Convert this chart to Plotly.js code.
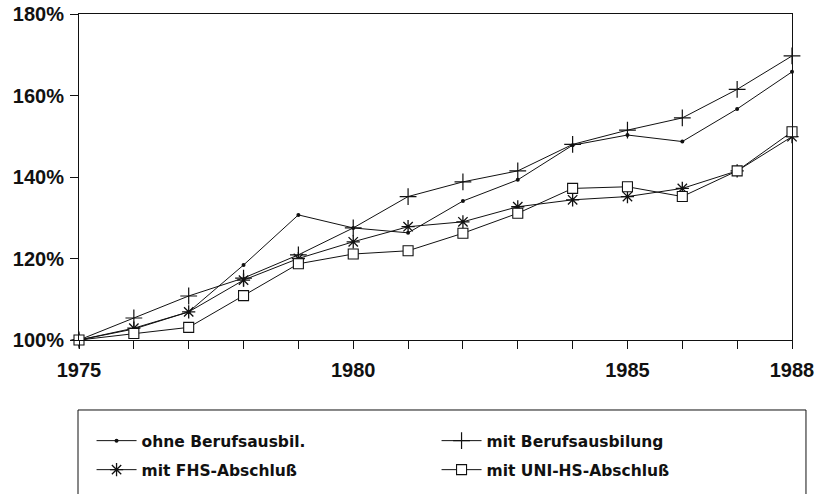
<!DOCTYPE html>
<html>
<head>
<meta charset="utf-8">
<script src="https://cdn.plot.ly/plotly-3.0.1.min.js"></script>
<style>html,body{margin:0;padding:0;background:#fff;}</style>
</head>
<body>
<div id="chart" style="width:822px;height:494px;"></div>
<script>
const years = [1975,1976,1977,1978,1979,1980,1981,1982,1983,1984,1985,1986,1987,1988];
const ohneBerufsausbil = [100,102.7,106.9,118.4,130.7,127.5,126.3,134.1,139.3,147.8,150.3,148.7,156.7,165.8];
const mitBerufsausbildung = [100,105.4,110.8,115.2,120.9,127.5,135.2,138.8,141.5,148.0,151.5,154.5,161.5,169.7];
const mitFHS = [100,102.9,106.9,114.7,120.0,124.1,127.8,129.0,132.7,134.4,135.2,137.2,141.5,149.9];
const mitUNI = [100,101.6,103.1,110.9,118.7,121.1,121.9,126.2,131.1,137.2,137.6,135.2,141.5,151.1];
const seriesNames = ['ohne Berufsausbil.','mit Berufsausbilung','mit FHS-Abschluß','mit UNI-HS-Abschluß'];
const xTickLabels = ['1975','','','','','1980','','','','','1985','','','1988'];
const yTickVals = [100,120,140,160,180];
const yTickLabels = ['100%','120%','140%','160%','180%'];

const legFont = {family:'DejaVu Sans', size:15.5, color:'#111', weight:'bold'};
const base = {x: years, mode:'lines+markers', line:{color:'#111', width:1}, cliponaxis:false};
const traces = [
  Object.assign({}, base, {y: ohneBerufsausbil, name: seriesNames[0], legend:'legend',
    marker:{symbol:'circle', size:4, color:'#111'}}),
  Object.assign({}, base, {y: mitBerufsausbildung, name: seriesNames[1], legend:'legend',
    marker:{symbol:'cross-thin', size:12, color:'#111', line:{color:'#111', width:1.2}}}),
  Object.assign({}, base, {y: mitFHS, name: seriesNames[2], legend:'legend2',
    marker:{symbol:'asterisk', size:11, color:'#111', line:{color:'#111', width:1.3}}}),
  Object.assign({}, base, {y: mitUNI, name: seriesNames[3], legend:'legend2',
    marker:{symbol:'square', size:10, color:'#fff', line:{color:'#111', width:1.1}}})
];

const tickFont = {family:'Liberation Sans', size:20, color:'#111', weight:'bold'};
const legCommon = {orientation:'h', x:0.0176, xanchor:'left', yanchor:'middle',
  entrywidth:290, entrywidthmode:'pixels', font: legFont, bgcolor:'rgba(0,0,0,0)', itemwidth:40};
const layout = {
  width: 822, height: 494,
  margin: {l:79, r:30, t:14, b:154, autoexpand:false},
  paper_bgcolor:'#fff', plot_bgcolor:'#fff',
  showlegend: true,
  xaxis: {
    range:[1975,1988], tickvals: years, ticktext: xTickLabels,
    ticks:'outside', ticklen:8, tickwidth:1, tickcolor:'#111',
    showline:true, linecolor:'#111', linewidth:1, mirror:true,
    showgrid:false, zeroline:false, tickfont: tickFont, ticklabelstandoff: 4, automargin:false
  },
  yaxis: {
    range:[100,180], tickvals: yTickVals, ticktext: yTickLabels,
    ticks:'outside', ticklen:8, tickwidth:1, tickcolor:'#111',
    showline:true, linecolor:'#111', linewidth:1, mirror:true,
    showgrid:false, zeroline:false, tickfont: tickFont, ticklabelstandoff: 2, automargin:false
  },
  legend: Object.assign({}, legCommon, {y:-0.31}),
  legend2: Object.assign({}, legCommon, {y:-0.399}),
  shapes: [
    {type:'path', xref:'paper', yref:'paper',
     path: 'M -0.0014,-0.52 L -0.0014,-0.2147 L 1.0196,-0.2147 L 1.0196,-0.52',
     line:{color:'#111', width:1}}
  ]
};
Plotly.newPlot('chart', traces, layout, {displayModeBar:false, staticPlot:true});
</script>
</body>
</html>
